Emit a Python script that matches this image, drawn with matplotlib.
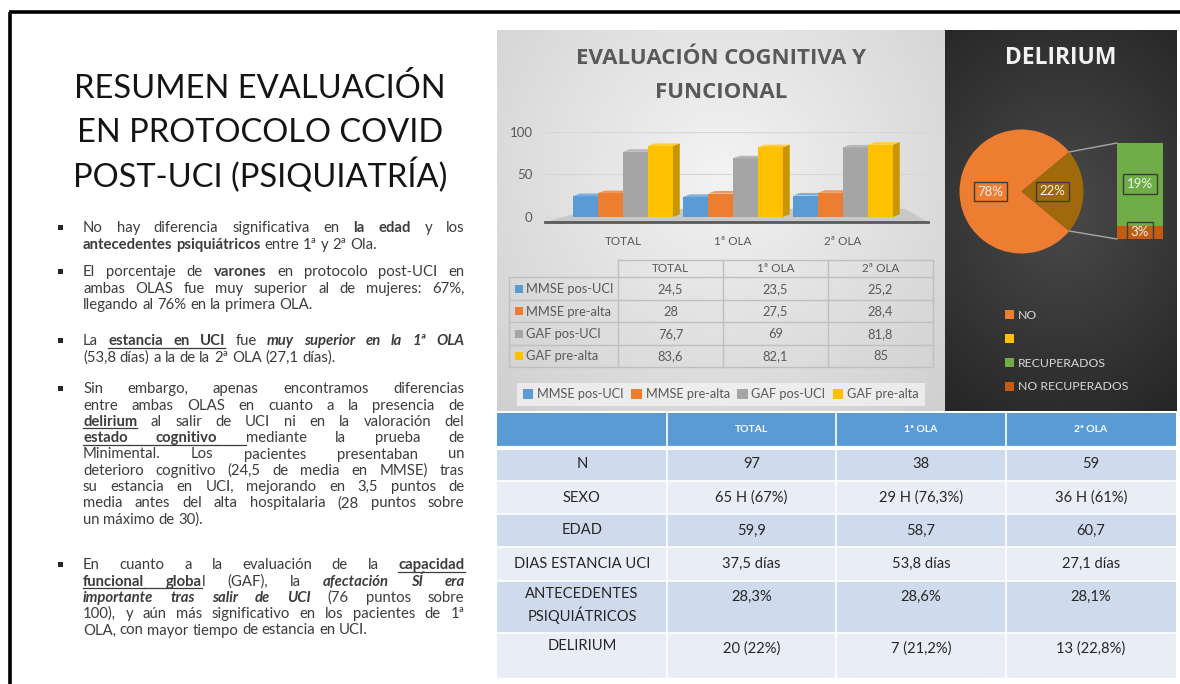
import matplotlib
matplotlib.use('Agg')
import matplotlib.pyplot as plt
import matplotlib.colors as mcolors
import numpy as np
from matplotlib.patches import Rectangle, Polygon, ConnectionPatch, Patch

W, H = 1180, 684
fig = plt.figure(figsize=(W / 100, H / 100), dpi=100)
fig.patch.set_facecolor('white')

# ---------------- data ----------------
slide_title = ['RESUMEN EVALUACIÓN', 'EN PROTOCOLO COVID', 'POST-UCI (PSIQUIATRÍA)']

chart_title = ['EVALUACIÓN COGNITIVA Y', 'FUNCIONAL']
groups = ['TOTAL', '1ª OLA', '2ª OLA']
series_names = ['MMSE pos-UCI', 'MMSE pre-alta', 'GAF pos-UCI', 'GAF pre-alta']
mmse_pos_uci = [24.5, 23.5, 25.2]
mmse_pre_alta = [28, 27.5, 28.4]
gaf_pos_uci = [76.7, 69, 81.8]
gaf_pre_alta = [83.6, 82.1, 85]
y_ticks = [0, 50, 100]
series_colors = ['#5B9BD5', '#ED7D31', '#A5A5A5', '#FFC000']

pie_title = 'DELIRIUM'
pie_values = [78, 22]            # NO, SÍ
split_values = [19, 3]           # RECUPERADOS, NO RECUPERADOS
legend_labels = ['NO', '', 'RECUPERADOS', 'NO RECUPERADOS']
legend_colors = ['#ED7D31', '#FFC000', '#70AD47', '#C55A11']

table_header = ['TOTAL', '1ª OLA', '2ª OLA']
table_rows = ['N', 'SEXO', 'EDAD', 'DIAS ESTANCIA UCI', 'ANTECEDENTES\nPSIQUIÁTRICOS', 'DELIRIUM']
total_col = ['97', '65 H (67%)', '59,9', '37,5 días', '28,3%', '20 (22%)']
ola1_col = ['38', '29 H (76,3%)', '58,7', '53,8 días', '28,6%', '7 (21,2%)']
ola2_col = ['59', '36 H (61%)', '60,7', '27,1 días', '28,1%', '13 (22,8%)']

bullets = [
    [[('No hay diferencia significativa en ', 'n'), ('la edad', 'b'), (' y los', 'n')],
     [('antecedentes psiquiátricos', 'b'), (' entre 1ª y 2ª Ola.', 'n')]],
    [[('El porcentaje de ', 'n'), ('varones', 'b'), (' en protocolo post-UCI en', 'n')],
     [('ambas OLAS fue muy superior al de mujeres: 67%,', 'n')],
     [('llegando al 76% en la primera OLA.', 'n')]],
    [[('La ', 'n'), ('estancia en UCI', 'bu'), (' fue ', 'n'), ('muy superior en la 1ª OLA', 'bi')],
     [('(53,8 días) a la de la 2ª OLA (27,1 días).', 'n')]],
    [[('Sin embargo, apenas encontramos diferencias', 'n')],
     [('entre ambas OLAS en cuanto a la presencia de', 'n')],
     [('delirium', 'bu'), (' al salir de UCI ni en la valoración del', 'n')],
     [('estado cognitivo ', 'bu'), (' mediante la prueba de', 'n')],
     [('Minimental. Los pacientes presentaban un', 'n')],
     [('deterioro cognitivo (24,5 de media en MMSE) tras', 'n')],
     [('su estancia en UCI, mejorando en 3,5 puntos de', 'n')],
     [('media antes del alta hospitalaria (28 puntos sobre', 'n')],
     [('un máximo de 30).', 'n')]],
    [[('En cuanto a la evaluación de la ', 'n'), ('capacidad', 'bu')],
     [('funcional globa', 'bu'), ('l (GAF), la ', 'n'), ('afectación  SÍ era', 'bi')],
     [('importante tras salir de UCI', 'bi'), (' (76 puntos sobre', 'n')],
     [('100), y aún más significativo en los pacientes de 1ª', 'n')],
     [('OLA, con mayor tiempo de estancia en UCI.', 'n')]],
]

# ---------------- helpers ----------------
BODY = 'Lato'
HEAD = 'Open Sans'


def fr(x0, y0, x1, y1):
    return [x0 / W, 1 - y1 / H, (x1 - x0) / W, (y1 - y0) / H]


def pix_axes(z):
    a = fig.add_axes([0, 0, 1, 1], zorder=z)
    a.set_xlim(0, W)
    a.set_ylim(H, 0)
    a.axis('off')
    a.patch.set_alpha(0)
    return a


def shade(c, f):
    rgb = np.array(mcolors.to_rgb(c))
    if f < 1:
        rgb = rgb * f
    else:
        rgb = rgb + (1 - rgb) * (f - 1)
    return tuple(np.clip(rgb, 0, 1))


def fmt(v):
    return ('%g' % v).replace('.', ',')


bg = pix_axes(0)


def radial(x0, y0, x1, y1, cx, cy, rx, ry, c_in, c_out):
    xs = np.linspace(x0, x1, 240)
    ys = np.linspace(y0, y1, 240)
    X, Y = np.meshgrid(xs, ys)
    d = np.clip(np.sqrt(((X - cx) / rx) ** 2 + ((Y - cy) / ry) ** 2), 0, 1)
    ci = np.array(mcolors.to_rgb(c_in))
    co = np.array(mcolors.to_rgb(c_out))
    img = ci[None, None, :] * (1 - d[..., None]) + co[None, None, :] * d[..., None]
    bg.imshow(img, extent=(x0, x1, y1, y0), origin='upper', aspect='auto',
              interpolation='bilinear', zorder=0)


radial(497, 30, 945, 411, 721, 170, 330, 330, '#F3F3F3', '#CFCFCF')
radial(945, 30, 1177, 411, 1062, 210, 220, 260, '#4A4A4A', '#232323')
bg.set_xlim(0, W)
bg.set_ylim(H, 0)

# slide border
bg.plot([10, 10], [12, H + 2], color='black', lw=2.6, solid_capstyle='butt')
bg.plot([9, W + 2], [12, 12], color='black', lw=2.6, solid_capstyle='butt')

ov = pix_axes(3)
renderer = fig.canvas.get_renderer()


def text_w(s, **kw):
    t = ov.text(0, 0, s, **kw)
    w = t.get_window_extent(renderer=renderer).width
    t.remove()
    return w


def tokenize(runs):
    toks = [[[], False]]
    for txt, st in runs:
        parts = txt.split(' ')
        for i, p in enumerate(parts):
            if i > 0:
                if 'u' in st and toks[-1][0]:
                    toks[-1][1] = True
                toks.append([[], False])
            if p:
                toks[-1][0].append((p, st))
    return [t for t in toks if t[0]]


def draw_line(runs, x0, x1, y, justify, size, color):
    toks = tokenize(runs)
    placed, widths = [], []
    for pieces, ulgap in toks:
        arts, w = [], 0
        for p, st in pieces:
            t = ov.text(x0, y, p, fontsize=size, family=BODY,
                        weight='bold' if 'b' in st else 'normal',
                        style='italic' if 'i' in st else 'normal',
                        color=color, ha='left', va='baseline')
            pw = t.get_window_extent(renderer=renderer).width
            arts.append((t, pw, st))
            w += pw
        placed.append((arts, ulgap))
        widths.append(w)
    sp = text_w('x x', fontsize=size, family=BODY) - text_w('xx', fontsize=size, family=BODY)
    if justify and len(placed) > 1:
        gap = (x1 - x0 - sum(widths)) / (len(placed) - 1)
    else:
        gap = sp
    x = x0
    for arts, ulgap in placed:
        for t, pw, st in arts:
            t.set_x(x)
            if 'u' in st:
                ov.plot([x, x + pw], [y + 2.4, y + 2.4], color=color, lw=0.9)
            x += pw
        if ulgap:
            ov.plot([x, x + gap], [y + 2.4, y + 2.4], color=color, lw=0.9)
        x += gap


# ---------------- slide title ----------------
for s, yb in zip(slide_title, [98, 142, 187]):
    ov.text(260, yb, s, ha='center', va='baseline', fontsize=23.5, family=BODY, color='#141414')

# ---------------- bullets ----------------
para_start = [228, 272, 341, 389, 565]
lh = 16.3
for para, y0 in zip(bullets, para_start):
    ov.add_patch(Rectangle((57.5, y0 - 3.5), 5, 5, fc='#262626', ec='none'))
    for k, line in enumerate(para):
        last = k == len(para) - 1
        draw_line(line, 83, 464.5, y0 + k * lh + 4.3, not last, 10.7, '#3C3C3C')

# ---------------- bar chart ----------------
axb = fig.add_axes(fr(545, 132, 928, 222), zorder=2)
axb.patch.set_alpha(0)
xl = -0.709
xr = xl + 383 / 110
axb.set_xlim(xl, xr)
axb.set_ylim(-6, 100)
for s in axb.spines.values():
    s.set_visible(False)
axb.set_axisbelow(True)
axb.set_yticks(y_ticks)
axb.set_yticklabels([str(v) for v in y_ticks], family=BODY)
axb.yaxis.grid(True, color='#D6D6D6', lw=0.8)
xg = np.arange(len(groups))
axb.set_xticks(xg)
axb.set_xticklabels(groups, family=BODY)
axb.tick_params(axis='y', length=0, pad=9, labelsize=9.5, labelcolor='#595959')
axb.tick_params(axis='x', length=0, pad=10, labelsize=8.5, labelcolor='#595959')

axb.add_patch(Polygon([(xl, -6), (xr, -6), (xr - 0.21, 9.5), (xl + 0.44, 9.5)],
                      closed=True, fc='#C8C8C8', ec='none', zorder=1))
axb.plot([xl, xr], [-6, -6], color='#595959', lw=2, zorder=1.5, clip_on=False)

series_vals = [mmse_pos_uci, mmse_pre_alta, gaf_pos_uci, gaf_pre_alta]
bw = 0.227
dx, dy = 0.062, 3.0
for i, (vals, col) in enumerate(zip(series_vals, series_colors)):
    bars = axb.bar(xg + (i - 1.5) * bw, vals, bw, color=col, zorder=3 + i, linewidth=0)
    for b in bars:
        bx, by, w, h = b.get_x(), b.get_y(), b.get_width(), b.get_height()
        axb.add_patch(Polygon([(bx + w, by), (bx + w + dx, by + dy), (bx + w + dx, by + h + dy), (bx + w, by + h)],
                              closed=True, fc=shade(col, 0.78), ec='none', zorder=3 + i))
        axb.add_patch(Polygon([(bx, by + h), (bx + w, by + h), (bx + w + dx, by + h + dy), (bx + dx, by + h + dy)],
                              closed=True, fc=shade(col, 1.2), ec='none', zorder=3 + i))

for s, yc in zip(chart_title, [59, 92]):
    ov.text(721, yc, s, ha='center', va='center', fontsize=16, weight='bold', family=HEAD, color='#595959')

# data table under chart
tx = [509, 618, 723, 828, 933]
ty = [260, 277, 300, 322, 345, 367]
lc = '#BFBFBF'
ov.plot([tx[1], tx[-1]], [ty[0], ty[0]], color=lc, lw=1)
for yy in ty[1:]:
    ov.plot([tx[0], tx[-1]], [yy, yy], color=lc, lw=1)
ov.plot([tx[0], tx[0]], [ty[1], ty[-1]], color=lc, lw=1)
for xx in tx[1:]:
    ov.plot([xx, xx], [ty[0], ty[-1]], color=lc, lw=1)
for j, g in enumerate(groups):
    ov.text((tx[j + 1] + tx[j + 2]) / 2, (ty[0] + ty[1]) / 2 + 0.5, g, ha='center', va='center',
            fontsize=8.5, family=BODY, color='#595959')
for i, (name, vals, col) in enumerate(zip(series_names, series_vals, series_colors)):
    yc = (ty[i + 1] + ty[i + 2]) / 2
    ov.add_patch(Rectangle((515, yc - 4), 8, 8, fc=col, ec='none'))
    ov.text(526, yc + 0.5, name, ha='left', va='center', fontsize=9.3, family=BODY, color='#595959')
    for j, v in enumerate(vals):
        ov.text((tx[j + 1] + tx[j + 2]) / 2, yc + 0.5, fmt(v), ha='center', va='center',
                fontsize=9.3, family=BODY, color='#595959')

leg_handles = [Patch(fc=c, ec='none') for c in series_colors]
lg = axb.legend(leg_handles, series_names, loc='center', bbox_to_anchor=(721 / W, 1 - 394.5 / H),
                bbox_transform=fig.transFigure, ncol=4, frameon=True, fancybox=False,
                prop=dict(family=BODY, size=9.2), labelcolor='#595959',
                handlelength=0.8, handleheight=0.8, handletextpad=0.3, columnspacing=0.6,
                borderpad=0.45)
lg.get_frame().set_facecolor('#F2F2F2')
lg.get_frame().set_edgecolor('none')

# ---------------- pie / bar of pie ----------------
ov.text(1061, 58, pie_title, ha='center', va='center', fontsize=16.5, weight='bold',
        family=HEAD, color='#F2F2F2')
axp = fig.add_axes(fr(959.5, 129.5, 1083.5, 253.5), zorder=2)
start = pie_values[1] / sum(pie_values) * 180
wedges, _, autot = axp.pie(pie_values, colors=['#ED7D31', '#A06A0C'], startangle=start,
                           autopct=lambda p: '%.0f%%' % p, pctdistance=0.5,
                           textprops=dict(color='#F2F2F2', fontsize=9.5, family=BODY),
                           wedgeprops=dict(linewidth=0))
for at in autot:
    at.set_bbox(dict(boxstyle='square,pad=0.3', fc='none', ec='#3A3A3A', lw=1))
axp.set_xlim(-1, 1)
axp.set_ylim(-1, 1)

axs = fig.add_axes(fr(1117, 143, 1163, 239), zorder=2)
axs.bar(0, split_values[1], 1, color='#C55A11', linewidth=0)
axs.bar(0, split_values[0], 1, bottom=split_values[1], color='#70AD47', linewidth=0)
axs.set_xlim(-0.5, 0.5)
axs.set_ylim(0, sum(split_values))
axs.axis('off')
for v, b in [(split_values[0], split_values[1]), (split_values[1], 0)]:
    axs.text(0, b + v / 2, '%d%%' % v, ha='center', va='center', fontsize=9.5, family=BODY,
             color='#F2F2F2', bbox=dict(boxstyle='square,pad=0.3', fc='none', ec='#3A3A3A', lw=1))

ang = np.deg2rad(start)
for sgn, yb in [(1, sum(split_values)), (-1, 0)]:
    cp = ConnectionPatch(xyA=(np.cos(ang), sgn * np.sin(ang)), coordsA=axp.transData,
                         xyB=(-0.5, yb), coordsB=axs.transData, color='#A6A6A6', lw=1)
    cp.set_zorder(5)
    fig.add_artist(cp)

lh2 = [Patch(fc=c, ec='none') for c in legend_colors]
axp.legend(lh2, legend_labels, loc='upper left', bbox_to_anchor=(1005 / W, 1 - 310 / H),
           bbox_transform=fig.transFigure, frameon=False, prop=dict(family=BODY, size=8.8),
           labelcolor='#D9D9D9', handlelength=0.7, handleheight=0.7, labelspacing=1.05,
           handletextpad=0.35, borderpad=0, borderaxespad=0)

# ---------------- bottom table ----------------
bcx = [497, 667, 836, 1006, 1176]
bry = [413, 448, 481, 514, 547, 581, 633, 678]
ov.add_patch(Rectangle((bcx[0], bry[0]), bcx[-1] - bcx[0], bry[1] - bry[0], fc='#5B9BD5', ec='none'))
row_cols = ['#CFDBEC', '#E9EEF6']
for i in range(len(table_rows)):
    ov.add_patch(Rectangle((bcx[0], bry[i + 1]), bcx[-1] - bcx[0], bry[i + 2] - bry[i + 1],
                           fc=row_cols[i % 2], ec='none'))
for yy in bry[2:-1]:
    ov.plot([bcx[0], bcx[-1]], [yy, yy], color='white', lw=1.2)
ov.plot([bcx[0], bcx[-1]], [bry[1], bry[1]], color='white', lw=3)
for xx in bcx[1:-1]:
    ov.plot([xx, xx], [bry[0], bry[-1]], color='white', lw=1.2)
for j, hname in enumerate(table_header):
    ov.text((bcx[j + 1] + bcx[j + 2]) / 2, 430, hname, ha='center', va='center', fontsize=7.5,
            weight='bold', family=BODY, color='white')
cols = [total_col, ola1_col, ola2_col]
for i, rname in enumerate(table_rows):
    y0, y1 = bry[i + 1], bry[i + 2]
    tall = (y1 - y0) > 40
    yc = y0 + 16 if tall else (y0 + y1) / 2
    ov.text((bcx[0] + bcx[1]) / 2, yc if not tall else y0 + 6, rname, ha='center',
            va='top' if tall else 'center', fontsize=10.6, family=BODY, color='#262626',
            linespacing=1.35)
    for j, col in enumerate(cols):
        ov.text((bcx[j + 1] + bcx[j + 2]) / 2, yc, col[i], ha='center', va='center',
                fontsize=10.6, family=BODY, color='#262626')

fig.savefig('out.png', dpi=100, facecolor='white')
